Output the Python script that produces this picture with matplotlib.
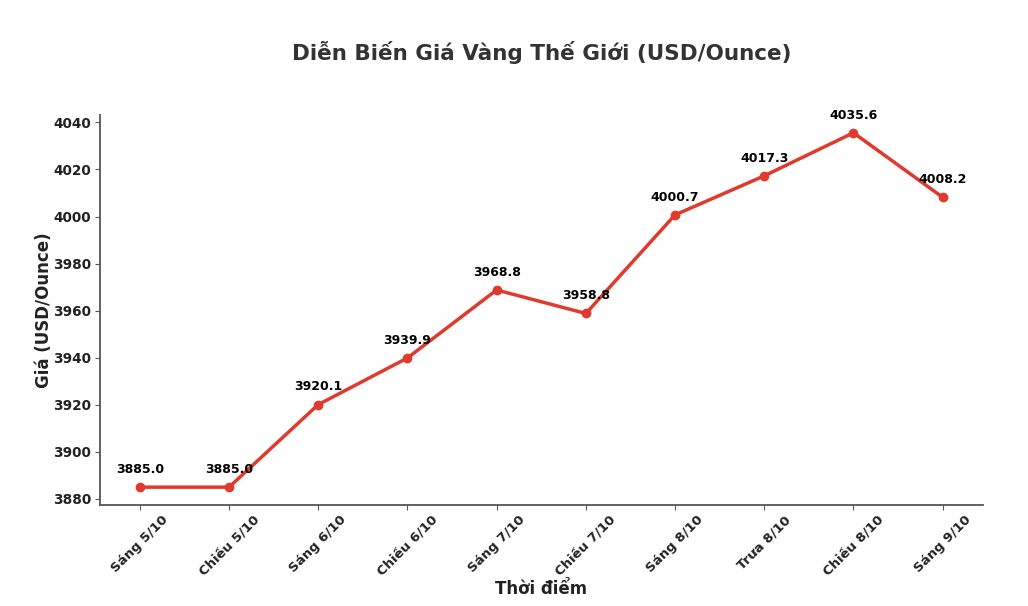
import matplotlib
matplotlib.use("Agg")
import matplotlib.pyplot as plt

labels = ["Sáng 5/10", "Chiều 5/10", "Sáng 6/10", "Chiều 6/10", "Sáng 7/10",
          "Chiều 7/10", "Sáng 8/10", "Trưa 8/10", "Chiều 8/10", "Sáng 9/10"]
prices = [3885.0, 3885.0, 3920.1, 3939.9, 3968.8, 3958.8, 4000.7, 4017.3, 4035.6, 4008.2]
yticks = [3880, 3900, 3920, 3940, 3960, 3980, 4000, 4020, 4040]

plt.rcParams['font.family'] = ['DejaVu Sans']
fig = plt.figure(figsize=(10.28, 6.06), dpi=100)
ax = fig.add_axes([0.097, 0.167, 0.859, 0.643])

x = list(range(len(labels)))
ax.plot(x, prices, color='#e03a2e', linewidth=2.5, marker='o', markersize=6)
for xi, v in zip(x, prices):
    ax.annotate(f"{v:.1f}", (xi, v), xytext=(0, 8), textcoords='offset points',
                ha='center', va='bottom', fontsize=9, fontweight='bold', color='black')

ax.set_xticks(x)
ax.set_xticklabels(labels, rotation=45, ha='center', fontsize=9.5, fontweight='bold')
ax.set_yticks(yticks)
ax.set_yticklabels([str(t) for t in yticks], fontsize=9.8, fontweight='bold')
ax.set_ylim(3877.5, 4043.1)

for s in ['top', 'right']:
    ax.spines[s].set_visible(False)
for s in ['left', 'bottom']:
    ax.spines[s].set_color('#555555')
    ax.spines[s].set_linewidth(1.3)
ax.tick_params(axis='both', colors='#555555', labelcolor='#222222', length=3.5, pad=2.5)

ax.set_xlabel("Thời điểm", fontsize=12, fontweight='bold', color='#222222', labelpad=1)
ax.set_ylabel("Giá (USD/Ounce)", fontsize=12, fontweight='bold', color='#222222', labelpad=0)
fig.text(0.527, 0.913, "Diễn Biến Giá Vàng Thế Giới (USD/Ounce)", ha='center', va='center',
         fontsize=15.5, fontweight='bold', color='#333333')

fig.savefig("out.png", dpi=100)
